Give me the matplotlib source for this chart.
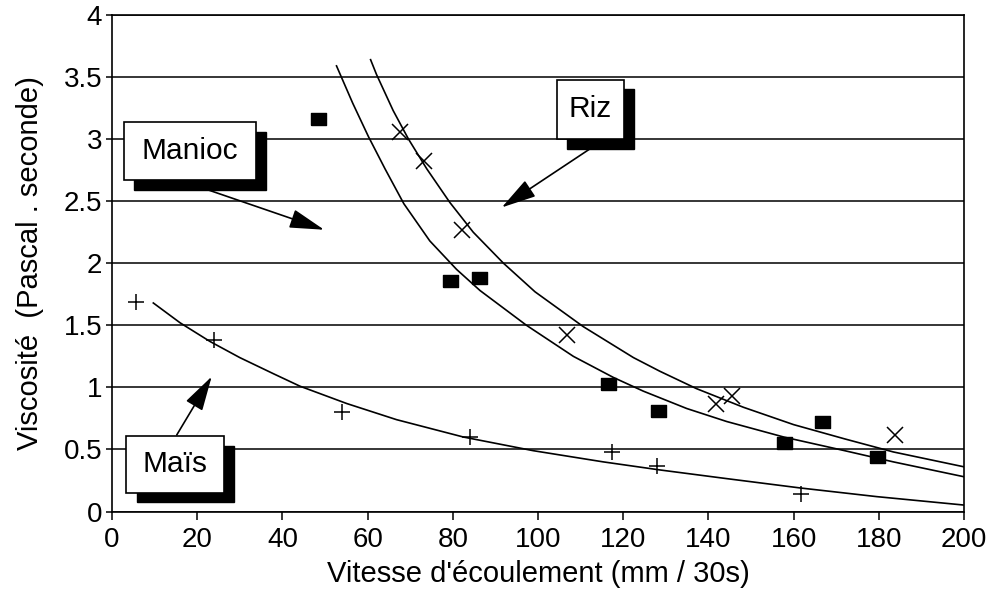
import matplotlib
matplotlib.use('Agg')
import matplotlib.pyplot as plt
from matplotlib.patches import Rectangle

plt.rcParams['font.family'] = ['Liberation Sans', 'DejaVu Sans']

# measured points
manioc_x = [48.4, 79.3, 86.2, 116.5, 128.1, 157.7, 166.7, 179.6]
manioc_y = [3.16, 1.86, 1.88, 1.03, 0.81, 0.55, 0.72, 0.44]

riz_x = [67.6, 73.3, 82.1, 106.7, 141.8, 145.5, 183.8]
riz_y = [3.06, 2.82, 2.27, 1.42, 0.87, 0.93, 0.62]

mais_x = [5.6, 23.9, 53.9, 84.0, 117.3, 127.9, 161.7]
mais_y = [1.69, 1.38, 0.80, 0.60, 0.48, 0.37, 0.14]

# trend curves
manioc_cx = [52.7, 56.5, 60.2, 64.1, 68.5, 74.6, 80.9, 86.4, 97.3, 108.3,
             117.7, 124.7, 134.9, 144.3, 157.7, 172, 183.4, 200]
manioc_cy = [3.59, 3.29, 3.02, 2.76, 2.48, 2.18, 1.95, 1.78, 1.50, 1.25,
             1.08, 0.97, 0.83, 0.725, 0.60, 0.49, 0.40, 0.28]

riz_cx = [60.7, 62.1, 66.0, 69.6, 73.9, 79.3, 84.8, 91.9, 99.3, 110.6,
          122.4, 128.6, 137.2, 148.2, 160, 172, 183.4, 200]
riz_cy = [3.64, 3.52, 3.23, 3.00, 2.76, 2.49, 2.25, 2.00, 1.77, 1.49,
          1.24, 1.13, 0.99, 0.84, 0.70, 0.585, 0.48, 0.36]

mais_cx = [9.7, 16, 23, 30, 37.9, 44.1, 55.1, 66.8, 82.5, 98.9,
           115.3, 128.6, 144.3, 161.5, 179.5, 200]
mais_cy = [1.68, 1.52, 1.37, 1.24, 1.11, 1.01, 0.87, 0.74, 0.60, 0.49,
           0.40, 0.335, 0.265, 0.19, 0.12, 0.052]

yticks = [0, 0.5, 1, 1.5, 2, 2.5, 3, 3.5, 4]
yticklabels = ['0', '0.5', '1', '1.5', '2', '2.5', '3', '3.5', '4']
xticks = list(range(0, 201, 20))

fig = plt.figure(figsize=(9.92, 5.95), dpi=100)
ax = fig.add_axes([0.1129, 0.1403, 0.8589, 0.8345])

# grid lines
for yv in yticks:
    ax.axhline(yv, color='black', lw=1.1, zorder=1)

# curves
ax.plot(manioc_cx, manioc_cy, color='black', lw=1.2, zorder=2)
ax.plot(riz_cx, riz_cy, color='black', lw=1.2, zorder=2)
ax.plot(mais_cx, mais_cy, color='black', lw=1.2, zorder=2)

# markers (the filled ones are slightly wider than tall)
rect_marker = [(-1.25, -1), (1.25, -1), (1.25, 1), (-1.25, 1), (-1.25, -1)]
ax.plot(manioc_x, manioc_y, linestyle='none', marker=rect_marker,
        color='black', ms=10.8, zorder=3)
ax.plot(riz_x, riz_y, 'x', color='black', ms=11, mew=1.1, zorder=3)
ax.plot(mais_x, mais_y, '+', color='black', ms=11, mew=1.1, zorder=3)


def label_box(text, x0, y0, x1, y1):
    dx, dy = 2.4, 0.08
    ax.add_patch(Rectangle((x0 + dx, y0 - dy), x1 - x0, y1 - y0,
                           facecolor='black', edgecolor='black', zorder=5))
    ax.add_patch(Rectangle((x0, y0), x1 - x0, y1 - y0,
                           facecolor='white', edgecolor='black', lw=1.2, zorder=6))
    ax.text((x0 + x1) / 2, (y0 + y1) / 2, text, ha='center', va='center',
            fontsize=21.5, zorder=7)


def arrow(start, tip):
    ax.annotate('', xy=tip, xytext=start,
                arrowprops=dict(arrowstyle='-|>,head_length=0.8,head_width=0.22',
                                mutation_scale=27, lw=1.2, color='black',
                                shrinkA=0, shrinkB=0), zorder=4)


label_box('Manioc', 2.8, 2.67, 33.8, 3.14)
label_box('Riz', 104.5, 3.0, 120.2, 3.48)
label_box('Maïs', 3.4, 0.153, 26.3, 0.61)

arrow((21.8, 2.60), (49.8, 2.27))
arrow((113.0, 2.94), (91.5, 2.45))
arrow((15.2, 0.617), (23.4, 1.087))

ax.set_xlim(0, 200)
ax.set_ylim(0, 4)
ax.set_xticks(xticks)
ax.set_yticks(yticks)
ax.set_yticklabels(yticklabels)
ax.tick_params(axis='both', labelsize=20, direction='out', color='black', width=1.1)
ax.tick_params(axis='x', length=6, pad=5)
ax.tick_params(axis='y', length=4, pad=3)
for s in ax.spines.values():
    s.set_linewidth(1.2)

ax.set_xlabel("Vitesse d'écoulement (mm / 30s)", fontsize=21, labelpad=5)
ax.set_ylabel('Viscosité  (Pascal . seconde)', fontsize=21, labelpad=14)

fig.savefig('out.png', dpi=100)
